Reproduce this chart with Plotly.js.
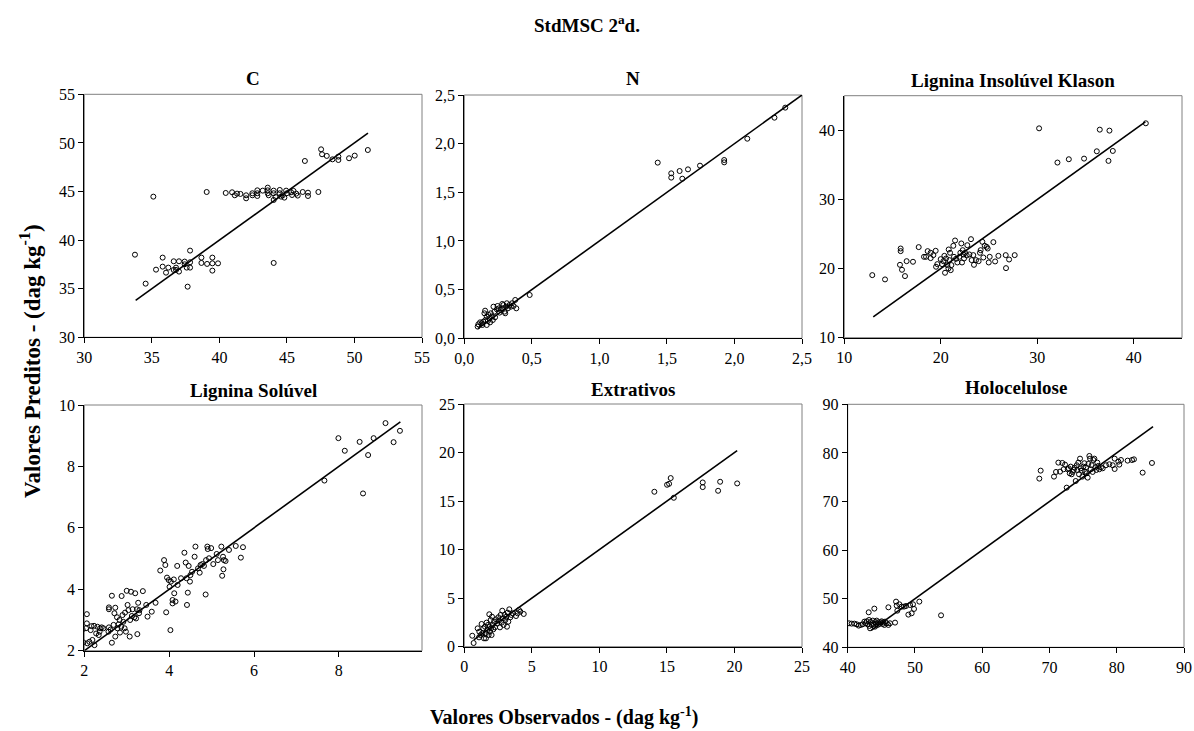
<!DOCTYPE html>
<html>
<head>
<meta charset="utf-8">
<script src="https://cdn.plot.ly/plotly-3.0.1.min.js"></script>
<style>html,body{margin:0;padding:0;background:#fff;}#chart{width:1194px;height:731px;}</style>
</head>
<body>
<div id="chart"></div>
<script>
// ---------- DATA ----------
const panelTitles = ["C", "N", "Lignina Insolúvel Klason", "Lignina Solúvel", "Extrativos", "Holocelulose"];

const obsC = [33.75,34.54,35.11,35.31,35.80,35.80,36.05,36.22,36.62,36.62,36.79,36.79,37.01,37.01,37.43,37.43,37.58,37.65,37.83,37.83,37.83,38.67,38.67,39.06,39.09,39.48,39.48,39.48,39.90,40.47,40.94,41.14,41.31,41.56,41.98,41.98,42.44,42.44,42.81,42.81,42.81,43.21,43.58,43.58,43.58,43.65,44.02,44.02,44.02,44.02,44.15,44.47,44.47,44.57,44.69,44.81,44.94,45.00,45.31,45.38,45.49,45.69,45.80,46.17,46.56,46.56,46.33,47.33,47.53,47.60,47.95,48.37,48.81,48.81,49.60,50.02,50.99];
const predC = [38.5,35.52,44.47,36.96,38.2,37.27,36.65,37.17,37.82,36.93,37.17,36.93,37.82,36.76,37.79,37.51,37.17,35.21,38.92,37.72,37.17,38.20,37.65,44.95,37.55,38.20,37.61,36.86,37.61,44.85,44.92,44.61,44.78,44.75,44.61,44.30,44.61,44.82,45.12,44.82,44.54,45.09,45.40,45.12,44.82,44.61,45.09,44.82,44.13,37.65,44.44,45.16,44.82,44.47,44.61,44.37,45.09,44.82,44.92,44.64,45.06,44.78,44.58,44.95,44.88,44.54,48.14,44.95,49.34,48.83,48.66,48.31,48.59,48.24,48.42,48.69,49.27];
const lineC = [33.8, 51.0];

const obsN = [0.099,0.104,0.117,0.129,0.141,0.134,0.149,0.154,0.156,0.166,0.166,0.174,0.181,0.186,0.191,0.196,0.204,0.211,0.216,0.223,0.228,0.241,0.246,0.261,0.271,0.285,0.290,0.298,0.303,0.310,0.315,0.323,0.335,0.345,0.353,0.365,0.377,0.385,0.281,0.256,0.484,1.432,1.532,1.532,1.594,1.614,1.656,1.745,1.924,1.924,2.095,2.296,2.376];
const predN = [0.12,0.144,0.164,0.154,0.171,0.137,0.257,0.284,0.188,0.223,0.137,0.178,0.240,0.205,0.164,0.257,0.223,0.188,0.325,0.274,0.216,0.298,0.332,0.264,0.291,0.308,0.342,0.274,0.257,0.325,0.360,0.308,0.342,0.325,0.360,0.332,0.394,0.308,0.353,0.308,0.445,1.805,1.695,1.651,1.719,1.640,1.736,1.774,1.832,1.808,2.051,2.267,2.370];
const lineN = [0.1, 2.5];

const obsK = [12.90,14.22,15.77,15.84,15.84,15.98,16.29,16.46,17.12,17.71,18.26,18.47,18.64,18.95,18.95,19.23,19.47,19.51,19.64,19.99,20.13,20.27,20.37,20.44,20.55,20.68,20.79,20.82,20.89,20.96,21.03,21.10,21.30,21.37,21.48,21.58,21.72,21.93,22.03,22.13,22.20,22.27,22.34,22.41,22.51,22.69,22.75,22.96,23.13,23.20,23.37,23.44,23.65,23.92,24.06,24.13,24.31,24.41,24.55,24.76,24.86,24.97,25.07,25.45,25.63,25.97,26.73,26.76,27.08,27.66,30.19,32.09,33.27,34.85,36.17,36.48,37.38,37.48,37.83,41.25];
const predK = [19.05,18.43,20.54,22.90,22.52,19.82,18.91,21.07,20.98,23.10,21.70,21.70,22.52,22.28,21.51,21.94,22.57,20.26,20.64,21.36,20.64,21.07,21.84,19.39,21.46,20.50,20.01,22.76,21.22,22.28,19.77,20.50,23.29,21.70,24.06,21.41,20.88,21.70,22.28,23.63,20.88,22.66,22.04,21.46,22.28,21.89,23.38,22.04,24.25,21.22,21.94,20.54,21.22,21.07,22.28,22.66,23.87,21.60,23.29,23.14,22.90,20.88,21.70,23.82,21.03,21.84,21.94,20.06,21.31,21.94,40.28,35.33,35.81,35.90,36.96,40.09,35.57,39.95,37.01,41.01];
const lineK = [13.0, 41.2];

const obsS = [1.96,1.98,2.04,2.06,2.06,2.07,2.12,2.15,2.17,2.19,2.23,2.24,2.28,2.31,2.34,2.36,2.37,2.41,2.45,2.57,2.58,2.58,2.58,2.62,2.65,2.65,2.69,2.71,2.73,2.73,2.77,2.78,2.81,2.83,2.84,2.87,2.88,2.90,2.92,2.95,2.96,2.98,3.00,3.02,3.04,3.07,3.08,3.10,3.12,3.14,3.18,3.20,3.22,3.24,3.25,3.27,3.29,3.30,3.38,3.46,3.49,3.59,3.68,3.79,3.88,3.91,3.93,3.95,3.99,4.01,4.03,4.04,4.08,4.08,4.11,4.12,4.15,4.19,4.20,4.28,4.36,4.39,4.41,4.42,4.44,4.46,4.49,4.50,4.54,4.60,4.62,4.68,4.72,4.74,4.78,4.82,4.86,4.87,4.90,4.91,4.94,4.99,5.04,5.12,5.15,5.23,5.25,5.27,5.28,5.29,5.33,5.41,5.57,5.69,5.74,7.66,7.99,8.14,8.49,8.57,8.69,8.82,9.10,9.29,9.44];
const predS = [2.69,2.27,2.73,2.89,3.19,2.24,2.29,2.67,2.80,2.35,2.81,2.18,2.56,2.78,2.51,2.62,2.73,2.76,2.73,2.62,2.76,3.35,3.41,2.69,3.79,2.26,2.84,3.22,3.40,2.46,3.09,2.73,2.86,3.00,2.59,2.78,3.78,3.16,2.94,2.73,3.24,2.62,3.95,3.49,3.32,2.46,3.00,3.92,3.13,3.35,3.09,3.87,3.05,3.35,2.54,3.56,3.22,3.32,3.94,3.49,3.11,3.27,3.56,4.61,4.95,4.79,3.25,4.38,4.30,4.08,2.67,4.25,3.65,3.54,4.32,3.87,3.60,4.76,4.14,4.36,5.19,4.87,4.36,3.49,3.89,4.76,4.25,4.46,4.57,5.06,5.39,4.68,4.54,4.79,4.82,4.76,3.83,4.95,5.39,5.31,5.01,5.34,4.82,5.15,4.95,5.39,4.44,5.06,4.65,4.95,4.92,5.28,5.41,5.03,5.37,7.54,8.92,8.51,8.80,7.12,8.37,8.92,9.41,8.79,9.16];
const lineS = [2.0, 9.45];

const obsE = [0.59,0.69,0.99,1.09,1.11,1.21,1.28,1.33,1.41,1.46,1.53,1.58,1.60,1.65,1.70,1.75,1.80,1.85,1.88,1.90,1.95,1.98,2.02,2.05,2.10,2.15,2.20,2.27,2.35,2.44,2.52,2.57,2.64,2.69,2.77,2.81,2.86,2.91,2.99,3.04,3.11,3.16,3.21,3.26,3.33,3.41,3.48,3.58,3.83,3.95,4.05,4.15,4.40,14.07,15.01,15.16,15.28,15.51,17.65,17.65,18.79,18.94,20.20];
const predE = [1.13,0.38,1.89,0.96,1.55,1.20,2.34,1.38,1.89,0.86,2.06,1.38,0.86,2.48,1.72,2.24,1.20,3.34,2.06,1.55,2.75,1.89,1.20,3.09,2.24,1.79,2.58,1.99,2.82,2.41,3.03,2.68,1.99,3.27,2.48,3.71,2.92,2.24,3.27,2.75,3.09,2.06,3.51,2.58,3.85,3.03,3.27,3.44,3.16,3.44,3.78,3.61,3.37,15.96,16.68,16.78,17.37,15.34,16.92,16.44,16.06,16.99,16.82];
const lineE = [0.7, 20.2];

const obsH = [40.20,40.59,40.99,41.34,41.64,41.93,42.23,42.48,42.68,42.83,42.97,43.12,43.17,43.22,43.32,43.42,43.57,43.72,43.82,43.96,44.06,44.11,44.21,44.31,44.46,44.56,44.71,44.91,45.05,45.20,45.30,45.45,45.55,45.80,46.05,46.05,46.29,47.04,47.19,47.28,47.38,47.68,48.03,48.37,48.67,49.02,49.27,49.51,49.71,49.86,50.65,53.88,68.49,68.69,70.67,70.97,71.32,71.57,71.91,72.11,72.31,72.56,72.71,72.86,73.01,73.15,73.30,73.45,73.60,73.75,73.90,74.05,74.14,74.29,74.39,74.54,74.64,74.79,74.89,75.04,75.19,75.28,75.43,75.53,75.68,75.78,75.93,76.03,76.13,76.27,76.42,76.52,76.67,76.82,76.97,77.11,77.26,77.41,77.66,77.91,78.40,78.90,79.40,79.69,79.69,80.24,80.38,80.63,81.62,82.27,82.56,83.85,85.24];
const predH = [44.94,44.87,44.87,44.73,44.46,44.60,44.73,45.28,44.94,45.35,44.73,47.20,45.62,44.39,43.91,45.21,44.60,45.49,44.80,47.96,44.25,45.21,44.80,45.49,44.60,45.14,44.80,45.14,45.35,44.80,45.14,44.60,45.28,44.94,48.23,44.60,44.94,45.08,49.40,48.57,47.54,48.85,48.37,48.37,48.50,46.72,48.71,47.00,48.85,47.89,49.40,46.58,74.71,76.35,75.12,76.08,78.00,76.15,77.93,76.63,77.59,72.85,76.63,76.83,75.80,77.18,75.60,76.08,76.49,76.97,74.22,77.46,76.49,78.00,75.60,78.82,76.83,76.35,75.12,77.18,77.87,76.15,77.04,75.80,74.91,77.73,79.37,78.82,76.63,77.46,76.08,78.54,78.82,77.04,76.49,78.00,77.32,76.63,77.04,76.83,77.46,77.66,77.46,78.82,76.69,78.20,77.59,78.54,78.41,78.54,78.68,75.94,77.93];
const lineH = [43.5, 85.4];

// axis ranges and ticks
const rangesX = [[30,55],[0,2.5],[10,45],[2,9.96],[0,25],[40,90]];
const rangesY = [[30,55],[0,2.5],[10,45],[2,10],[0,25],[40,90]];
const dticks = [5, 0.5, 10, 2, 5, 10];
const tickFmt = ["", ".1f", "", "", "", ""];

const mainTitle = "<b>StdMSC 2<sup>a</sup>d.</b>";
const xTitle = "<b>Valores Observados - (dag kg<sup>-1</sup>)</b>";
const yTitle = "<b>Valores Preditos - (dag kg<sup>-1</sup>)</b>";

// ---------- LAYOUT ----------
const W = 1194, H = 731;
const boxes = [ // pixel boxes [x0,x1,y0(top),y1(bottom)]
  [84.3, 422, 94.3, 337.3],
  [464.3, 802, 95, 338.3],
  [844.3, 1182, 95.7, 337.7],
  [84.3, 422, 405, 650.7],
  [464.3, 802, 404, 646.7],
  [847.7, 1184, 404.3, 647.3]
];
const titleY = [78, 78, 80, 390, 389, 387];
const FONT = "Liberation Serif";

const series = [[obsC,predC,lineC],[obsN,predN,lineN],[obsK,predK,lineK],[obsS,predS,lineS],[obsE,predE,lineE],[obsH,predH,lineH]];

const data = [];
const layout = {
  width: W, height: H, autosize: false,
  margin: {l:0, r:0, t:0, b:0},
  paper_bgcolor: "#fff", plot_bgcolor: "#fff",
  showlegend: false,
  separators: ",.",
  font: {family: FONT, color: "#000", size: 16},
  annotations: [], shapes: []
};

series.forEach((s, i) => {
  const n = i + 1;
  const xa = n === 1 ? "x" : "x" + n;
  const ya = n === 1 ? "y" : "y" + n;
  data.push({type: "scatter", mode: "markers", x: s[0], y: s[1], xaxis: xa, yaxis: ya,
    marker: {symbol: "circle-open", size: 5, color: "#000", line: {width: 1, color: "#000"}}, hoverinfo: "x+y"});
  data.push({type: "scatter", mode: "lines", x: s[2], y: s[2], xaxis: xa, yaxis: ya,
    line: {color: "#000", width: 1.6}, hoverinfo: "skip"});
  const b = boxes[i];
  const axCommon = {showgrid: false, zeroline: false, showline: true, linecolor: "#000", linewidth: 1,
    ticks: "outside", ticklen: 5, tickwidth: 1, tickcolor: "#000", mirror: false,
    tickfont: {family: FONT, size: 16, color: "#000"}, fixedrange: true};
  layout["xaxis" + (n === 1 ? "" : n)] = Object.assign({}, axCommon, {
    domain: [b[0]/W, b[1]/W], range: rangesX[i], dtick: dticks[i], tick0: rangesX[i][0], tickformat: tickFmt[i],
    anchor: ya});
  layout["yaxis" + (n === 1 ? "" : n)] = Object.assign({}, axCommon, {
    domain: [1 - b[3]/H, 1 - b[2]/H], range: rangesY[i], dtick: dticks[i], tick0: rangesY[i][0], tickformat: tickFmt[i],
    anchor: xa});
  // gray frame (top/right)
  layout.shapes.push({type: "rect", xref: "paper", yref: "paper", layer: "below",
    x0: b[0]/W, x1: b[1]/W, y0: 1 - b[3]/H, y1: 1 - b[2]/H, line: {color: "#808080", width: 1}});
  layout.annotations.push({xref: "paper", yref: "paper", x: (b[0]+b[1])/2/W, y: 1 - titleY[i]/H,
    xanchor: "center", yanchor: "middle", showarrow: false,
    text: "<b>" + panelTitles[i] + "</b>", font: {family: FONT, size: 19, color: "#000"}});
});

layout.annotations.push({xref: "paper", yref: "paper", x: 587/W, y: 1 - 24/H, xanchor: "center", yanchor: "middle",
  showarrow: false, text: mainTitle, font: {family: FONT, size: 19, color: "#000"}});
layout.annotations.push({xref: "paper", yref: "paper", x: 564/W, y: 1 - 716/H, xanchor: "center", yanchor: "middle",
  showarrow: false, text: xTitle, font: {family: FONT, size: 20, color: "#000"}});
layout.annotations.push({xref: "paper", yref: "paper", x: 31/W, y: 1 - 361/H, xanchor: "center", yanchor: "middle",
  showarrow: false, textangle: -90, text: yTitle, font: {family: FONT, size: 23, color: "#000"}});

Plotly.newPlot("chart", data, layout, {displayModeBar: false, staticPlot: true});
</script>
</body>
</html>
